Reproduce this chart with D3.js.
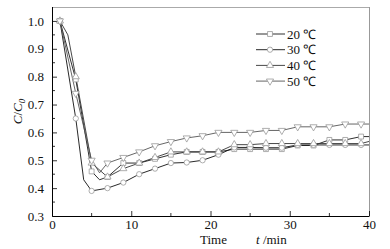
<!DOCTYPE html>
<html>
<head>
<meta charset="utf-8">
<script src="https://cdn.jsdelivr.net/npm/d3@7"></script>
<style>
  body { margin: 0; background: #fff; }
  svg text { font-family: "Liberation Serif", "Times New Roman", Times, serif !important; }
</style>
</head>
<body>
<script>
// chart values
const seriesNames = ["20 ℃", "30 ℃", "40 ℃", "50 ℃"];
const markerTypes = ["square", "circle", "triangle", "down"];

const t20 = [1, 3, 5, 6, 7, 9, 11, 13, 15, 17, 19, 21, 23, 25, 27, 29, 31, 33, 35, 37, 39, 41];
const c20 = [1.0, 0.79, 0.46, 0.43, 0.44, 0.49, 0.49, 0.505, 0.52, 0.53, 0.53, 0.53, 0.54, 0.54, 0.54, 0.54, 0.553, 0.553, 0.573, 0.573, 0.585, 0.585];

const t30 = [1, 3, 4, 5, 7, 9, 11, 13, 15, 17, 19, 21, 23, 25, 27, 29, 31, 33, 35, 37, 39, 41];
const c30 = [1.0, 0.65, 0.43, 0.39, 0.40, 0.42, 0.45, 0.47, 0.49, 0.492, 0.50, 0.52, 0.546, 0.546, 0.545, 0.545, 0.555, 0.555, 0.555, 0.555, 0.555, 0.555];

const t40 = [1, 2, 3, 5, 7, 9, 11, 13, 15, 17, 19, 21, 23, 25, 27, 29, 31, 33, 35, 37, 39, 41];
const c40 = [1.0, 0.95, 0.80, 0.49, 0.44, 0.47, 0.49, 0.51, 0.53, 0.53, 0.53, 0.53, 0.556, 0.556, 0.56, 0.56, 0.56, 0.56, 0.56, 0.56, 0.56, 0.575];

const t50 = [1, 3, 5, 6, 7, 9, 11, 13, 15, 17, 19, 21, 23, 25, 27, 29, 31, 33, 35, 37, 39, 41];
const c50 = [1.0, 0.74, 0.50, 0.455, 0.49, 0.51, 0.53, 0.552, 0.567, 0.58, 0.588, 0.60, 0.60, 0.60, 0.607, 0.607, 0.62, 0.62, 0.62, 0.63, 0.63, 0.63];

const xTicks = [0, 10, 20, 30, 40];
const yTicks = [0.3, 0.4, 0.5, 0.6, 0.7, 0.8, 0.9, 1.0];

const times = [t20, t30, t40, t50];
const values = [c20, c30, c40, c50];
const lineColors = ["#1a1a1a", "#111", "#333", "#555"];

const width = 390, height = 249;
const margin = {top: 7, right: 21, bottom: 33, left: 52};
const w = width - margin.left - margin.right;
const h = height - margin.top - margin.bottom;

var svg = d3.select("body").append("svg")
            .attr("width", width)
            .attr("height", height);

var g = svg.append("g")
           .attr("transform", "translate(" + margin.left + "," + margin.top + ")");

var x = d3.scaleLinear().domain([0, 40]).range([0, w]);
var y = d3.scaleLinear().domain([0.3, 1.05]).range([h, 0]);

// frame: top and right in grey
g.append("line").attr("x1", 0).attr("x2", w).attr("y1", 0.5).attr("y2", 0.5)
 .attr("stroke", "#aaa").attr("stroke-width", 1.2);
g.append("line").attr("x1", w + 0.5).attr("x2", w + 0.5).attr("y1", 0).attr("y2", h)
 .attr("stroke", "#999").attr("stroke-width", 1);

// minor ticks
g.selectAll(".xminor").data(d3.range(5, 40, 10)).enter().append("line")
 .attr("x1", d => x(d)).attr("x2", d => x(d)).attr("y1", h).attr("y2", h - 3)
 .attr("stroke", "#000").attr("stroke-width", 0.8);
g.selectAll(".yminor").data(d3.range(0.35, 1.0, 0.1)).enter().append("line")
 .attr("x1", 0).attr("x2", 3).attr("y1", d => y(d)).attr("y2", d => y(d))
 .attr("stroke", "#000").attr("stroke-width", 0.8);

var xAxis = g.append("g").attr("transform", "translate(0," + h + ")")
             .call(d3.axisBottom(x).tickValues(xTicks).tickSizeInner(-5).tickSizeOuter(0).tickPadding(4));
var yAxis = g.append("g")
             .call(d3.axisLeft(y).tickValues(yTicks).tickFormat(d3.format(".1f")).tickSizeInner(-5).tickSizeOuter(0).tickPadding(8));

[xAxis, yAxis].forEach(function(a) {
  a.attr("font-family", null);
  a.select(".domain").attr("stroke", "#000").attr("stroke-width", 1);
  a.selectAll(".tick line").attr("stroke", "#000").attr("stroke-width", 0.8);
  a.selectAll("text").attr("font-size", 13).attr("fill", "#111");
});
yAxis.select(".domain").attr("d", "M0.5," + h + "V0");

// data lines
g.append("clipPath").attr("id", "clip").append("rect")
 .attr("width", w).attr("height", h);

var line = d3.line().x(d => x(d[0])).y(d => y(d[1]));

function marker(sel, type) {
  var sym = {square: d3.symbolSquare, circle: d3.symbolCircle,
             triangle: d3.symbolTriangle, down: d3.symbolTriangle}[type];
  var size = {square: 24, circle: 22, triangle: 22, down: 22}[type];
  sel.append("path")
     .attr("d", d3.symbol().type(sym).size(size))
     .attr("transform", d => "translate(" + x(d[0]) + "," + y(d[1]) + ")" + (type === "down" ? " rotate(180)" : ""))
     .attr("fill", "#fff").attr("stroke", "#999").attr("stroke-width", 0.8);
}

var plot = g.append("g").attr("clip-path", "url(#clip)");
seriesNames.forEach(function(name, i) {
  var pts = times[i].map((t, j) => [t, values[i][j]]);
  plot.append("path").datum(pts)
      .attr("d", line).attr("fill", "none")
      .attr("stroke", lineColors[i]).attr("stroke-width", 0.9);
});
seriesNames.forEach(function(name, i) {
  var pts = times[i].map((t, j) => [t, values[i][j]]).filter(d => d[0] % 2 === 1 && d[0] <= 40);
  marker(plot.selectAll(null).data(pts).enter().append("g"), markerTypes[i]);
});

// legend
var legend = g.append("g").attr("transform", "translate(204,27)");
seriesNames.forEach(function(name, i) {
  var row = legend.append("g").attr("transform", "translate(0," + (i * 15.7) + ")");
  row.append("line").attr("x1", 0).attr("x2", 29).attr("y1", 0).attr("y2", 0)
     .attr("stroke", lineColors[i]).attr("stroke-width", 0.9);
  var s = row.append("g").attr("transform", "translate(" + (14 - x(0)) + ",0)");
  marker(s.selectAll(null).data([[0, 0]]).enter().append("g")
          .attr("transform", d => "translate(0," + (-y(0)) + ")"), markerTypes[i]);
  row.append("text").attr("x", 31).attr("y", 4.5).attr("font-size", 13).attr("fill", "#111")
     .text(name);
});

// axis titles
svg.append("text")
   .attr("transform", "translate(22," + (margin.top + h / 2) + ") rotate(-90)")
   .attr("text-anchor", "middle").attr("font-size", 13).attr("fill", "#111")
   .html('<tspan font-style="italic">C</tspan>/<tspan font-style="italic">C</tspan><tspan font-style="italic" font-size="9" dy="3">0</tspan>');

var xt = svg.append("text").attr("x", 200).attr("y", 244).attr("font-size", 13).attr("fill", "#111");
xt.append("tspan").text("Time");
xt.append("tspan").attr("x", 256).attr("font-style", "italic").text("t");
xt.append("tspan").text(" /min");
</script>
</body>
</html>
